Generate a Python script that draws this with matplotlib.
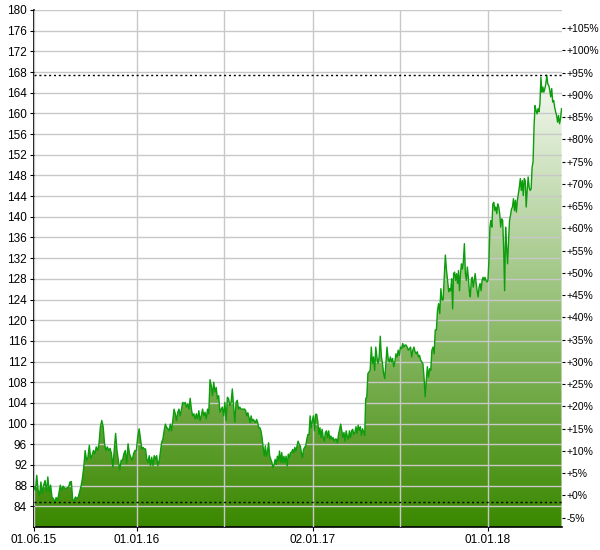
import numpy as np
import pandas as pd
import matplotlib
matplotlib.use("Agg")
import matplotlib.pyplot as plt
import matplotlib.dates as mdates
from matplotlib.colors import LinearSegmentedColormap
from matplotlib.path import Path

plt.rcParams["font.family"] = ["Liberation Sans", "DejaVu Sans"]

# ---- price readings, one list per period (values evenly spaced inside a period) ----
jun15_jan16 = [87.7, 87.1, 90.0, 87.1, 86.1, 88.7, 86.5, 88.1, 89.0, 86.8, 89.7, 86.8, 88.1,
               85.8, 85.5, 84.8, 85.7, 85.2, 86.5, 88.1, 87.1, 87.9, 87.6, 87.4, 87.6, 87.7,
               88.7, 88.8, 85.2, 85.2, 85.8, 85.5, 85.8, 86.8, 87.9, 89.4, 91.6, 94.8, 92.9,
               93.5, 95.8, 93.2, 93.9, 94.8, 94.2, 95.5, 94.8, 96.1, 99.4, 100.6, 99.4, 96.1,
               94.8, 95.5, 94.8, 95.2, 94.2, 91.6, 94.8, 98.1, 94.8, 92.9, 91.0, 92.9, 92.9,
               94.2, 94.8, 92.3, 96.1, 94.2, 93.5, 92.9, 94.2, 94.8, 94.8, 97.4, 99.0]
jan16_aug16 = [97.0, 95.1, 95.4, 95.1, 95.1, 93.2, 92.5, 93.8, 91.9, 93.5, 91.9, 93.8, 93.2,
               93.8, 91.9, 92.8, 94.5, 96.4, 97.0, 98.6, 99.9, 99.3, 99.0, 98.6, 99.9, 98.6,
               100.6, 102.8, 101.9, 100.6, 102.2, 102.8, 101.5, 102.8, 104.1, 103.8, 104.1,
               103.2, 103.8, 102.8, 104.9, 102.8, 101.5, 101.9, 100.9, 101.9, 100.9, 102.5,
               100.6, 101.5, 102.8, 101.5, 102.2, 100.9, 102.8, 101.9, 108.5, 107.4, 105.4,
               108.0, 106.1, 107.0, 104.8, 105.4, 102.2, 102.8, 103.2, 101.5, 104.1, 100.6,
               105.1, 104.8, 103.5, 104.1, 106.7, 103.5, 100.3, 104.1, 104.5, 102.8, 103.2,
               102.8, 102.8, 102.8, 102.8]
aug16_apr17 = [102.5, 101.5, 102.1, 101.2, 100.2, 101.5, 100.5, 100.8, 100.5, 100.2, 100.8,
               100.2, 99.2, 99.2, 98.6, 97.3, 95.4, 93.7, 95.7, 93.7, 94.7, 96.3, 93.7, 93.1,
               92.5, 91.5, 92.1, 93.1, 92.1, 93.7, 92.8, 94.7, 92.5, 94.4, 92.5, 93.7, 92.5,
               93.7, 91.8, 94.1, 93.4, 94.4, 94.4, 95.0, 94.4, 95.4, 94.7, 95.7, 96.6, 96.0,
               95.7, 94.4, 93.4, 95.0, 95.4, 95.7, 97.0, 97.9, 97.9, 101.5, 99.2, 100.5, 101.5,
               98.6, 101.8, 101.8, 100.5, 97.9, 99.2, 97.3, 98.9, 97.3, 96.6, 98.3, 98.6, 97.3,
               98.6, 97.0, 97.6, 97.0, 97.3, 96.6, 97.0, 97.0, 96.3, 97.9, 98.9, 99.9, 98.6,
               97.3, 98.3, 96.6, 98.6, 97.6, 97.0, 98.6, 97.3, 98.6, 98.9, 97.9, 98.3, 99.4,
               98.1, 99.7, 98.7, 99.4, 97.7, 99.0, 98.4, 97.7]
apr17_oct17 = [104.8, 105.2, 109.7, 110.0, 110.3, 114.8, 111.6, 112.9, 110.3, 114.8, 112.9,
               111.6, 112.9, 116.9, 112.9, 111.6, 109.7, 108.7, 111.6, 114.8, 112.6, 111.9,
               112.9, 111.9, 112.6, 111.0, 111.9, 113.5, 112.9, 114.2, 113.2, 114.8, 114.5,
               115.5, 114.8, 115.2, 115.2, 114.8, 114.2, 114.5, 114.8, 112.9, 114.2, 114.8,
               113.9, 113.5, 113.9, 112.9, 113.2, 112.3, 111.9, 111.6, 109.0, 105.2, 108.4,
               111.0, 109.0, 110.6, 110.3, 114.2, 114.8, 113.5, 118.1, 118.1, 121.9, 123.2,
               121.3, 126.1, 123.9, 123.9, 128.4, 132.6, 129.7, 127.7, 125.5]
oct17_jun18 = [126.1, 125.7, 128.0, 122.2, 129.0, 129.3, 127.7, 129.0, 127.1, 129.6, 125.7,
               129.0, 130.9, 129.9, 131.5, 134.8, 129.0, 127.7, 130.3, 128.3, 125.7, 124.5,
               127.7, 128.3, 126.4, 127.7, 129.0, 127.1, 125.7, 124.5, 126.4, 127.1, 125.7,
               127.7, 128.3, 127.7, 128.3, 127.7, 127.4, 127.7, 131.5, 138.0, 139.3, 138.0,
               142.5, 142.8, 141.2, 141.9, 140.6, 142.5, 141.9, 140.6, 138.0, 139.6, 139.3,
               134.1, 125.7, 138.0, 134.1, 130.9, 135.4, 139.3, 140.3, 141.5, 141.9, 143.5,
               141.2, 143.2, 140.9, 143.2, 144.5, 145.7, 147.4, 145.1, 147.0, 144.1, 147.4,
               147.0, 141.9, 145.1, 147.7, 145.7, 145.1, 145.4, 149.6, 150.6, 157.4, 161.5,
               160.6, 159.9, 160.9, 160.3, 161.9, 167.0, 164.1, 165.1, 164.1, 164.8, 165.7,
               167.4, 165.7, 165.4, 164.5, 163.2, 164.8, 162.2, 162.5, 161.2, 160.3, 159.6,
               158.3, 159.6, 158.0, 159.0, 160.9]

periods = [
    ("2015-06-01", "2016-01-06", jun15_jan16),
    ("2016-01-09", "2016-08-13", jan16_aug16),
    ("2016-08-15", "2017-04-20", aug16_apr17),
    ("2017-04-22", "2017-10-12", apr17_oct17),
    ("2017-10-14", "2018-06-04", oct17_jun18),
]

base_price = 86.1  # 0% on the right scale

label_dates = ["2015-06-01", "2016-01-01", "2017-01-02", "2018-01-01"]
label_texts = ["01.06.15", "01.01.16", "02.01.17", "01.01.18"]
half_year_dates = ["2016-07-01", "2017-07-03"]

left_ticks = list(range(84, 181, 4))
pct_ticks = list(range(-5, 106, 5))

# ---- build series ----
parts = [pd.Series(vals, index=pd.date_range(s, e, periods=len(vals))) for s, e, vals in periods]
prices = pd.concat(parts)
x = mdates.date2num(prices.index.to_pydatetime())
y = prices.values

y_lo, y_hi = 80, 180
x_lo = mdates.date2num(pd.Timestamp("2015-06-01"))
x_hi = mdates.date2num(pd.Timestamp("2018-06-05"))

fig = plt.figure(figsize=(6, 5.5), dpi=100)
ax = fig.add_axes([34 / 600, 23 / 550, 528 / 600, 517 / 550])

# gradient fill under the line, clipped to the area below the price curve
cmap = LinearSegmentedColormap.from_list("grn", ["#3a8800", "#f6faf3"])
grad = np.linspace(0, 1, 256).reshape(-1, 1)
im = ax.imshow(grad, cmap=cmap, origin="lower", aspect="auto",
               extent=[x_lo, x_hi, y_lo, y.max()], zorder=1)
clip = Path(np.vstack([np.column_stack([x, y]),
                       [[x[-1], y_lo], [x[0], y_lo]]]))
im.set_clip_path(clip, transform=ax.transData)

ax.plot(x, y, color="#0c9c0c", lw=1.0, zorder=3)
ax.axhline(y.max(), color="black", ls=(0, (1.5, 2)), lw=1, zorder=3)
ax.axhline(y.min(), color="black", ls=(0, (1.5, 2)), lw=1, zorder=3)

ax.set_xlim(x_lo, x_hi)
ax.set_ylim(y_lo, y_hi)

ax.set_yticks(left_ticks)
ax.set_yticklabels([str(t) for t in left_ticks])
ax.set_xticks([mdates.date2num(pd.Timestamp(d)) for d in label_dates])
ax.set_xticklabels(label_texts)
ax.set_xticks([mdates.date2num(pd.Timestamp(d)) for d in half_year_dates], minor=True)

ax.set_axisbelow(False)
ax.grid(True, which="both", color="#c8c8c8", lw=1)
ax.tick_params(axis="both", which="major", direction="out", length=3, labelsize=8.5,
               colors="black", pad=2)
ax.tick_params(axis="x", which="minor", length=0)
for side in ["top", "right"]:
    ax.spines[side].set_visible(False)
for side in ["left", "bottom"]:
    ax.spines[side].set_color("black")
    ax.spines[side].set_linewidth(1.2)

# right scale in percent relative to base price
ax2 = ax.twinx()
ax2.set_ylim((y_lo / base_price - 1) * 100, (y_hi / base_price - 1) * 100)
ax2.set_yticks(pct_ticks)
ax2.set_yticklabels([f"{p:+d}%" for p in pct_ticks])
ax2.tick_params(axis="y", direction="out", length=2.5, labelsize=7.5, pad=1)
for s in ax2.spines.values():
    s.set_visible(False)

fig.savefig("out.png", dpi=100)
